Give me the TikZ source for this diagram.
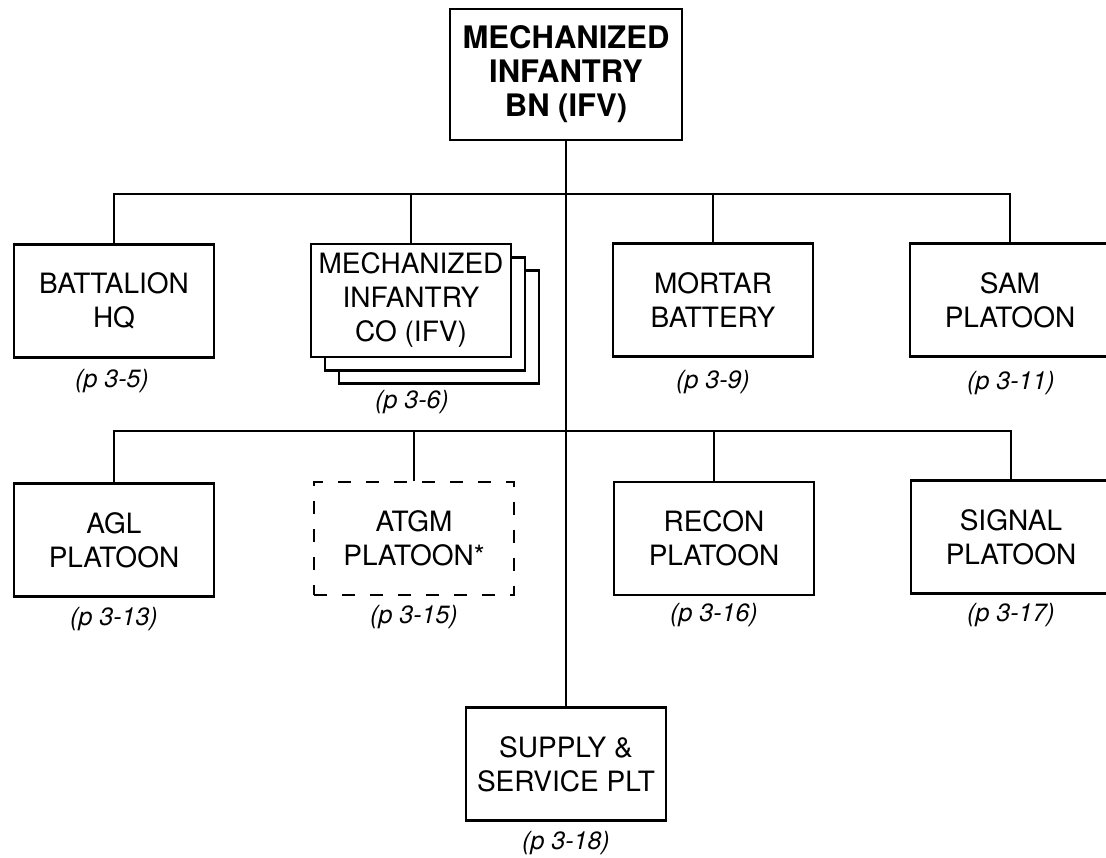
\documentclass[tikz,border=0pt]{standalone}
\usepackage{fontspec}
\setmainfont{TeX Gyre Heros}
\begin{document}
\begin{tikzpicture}[x=1pt,y=-1pt,
  unitbox/.style={draw=black,line width=2.8pt,fill=white,minimum width=200pt,minimum height=113pt,inner sep=0pt,align=center,font=\fontsize{28}{34}\selectfont},
  dashbox/.style={unitbox,line width=1.4pt,dash pattern=on 13pt off 15pt},
  topbox/.style={unitbox,minimum width=232pt,minimum height=131pt,font=\fontsize{31}{34}\selectfont\bfseries},
  pagelabel/.style={font=\fontsize{25}{28}\selectfont\itshape,inner sep=0pt},
  link/.style={line width=2.8pt}]
\useasboundingbox (0,0) rectangle (1106,857);
\clip (0,0) rectangle (1106,857);
\fill[white] (0,0) rectangle (1106,857);

% main spine
\node[topbox] (top) at (566,74.5) {MECHANIZED\\INFANTRY\\BN (IFV)};
\node[unitbox] (supply) at (566,764) {SUPPLY \&\\SERVICE PLT};
\coordinate (bar1) at (566,194);
\coordinate (bar2) at (566,431);

% row 1
\node[unitbox] (bhq) at (114,301) {BATTALION\\HQ};
\node[unitbox] (mico3) at (439,327) {};
\node[unitbox] (mico2) at (425,314) {};
\node[unitbox] (mico) at (411,300.5) {MECHANIZED\\INFANTRY\\CO (IFV)};
\node[unitbox] (mort) at (713,300) {MORTAR\\BATTERY};
\node[unitbox] (sam) at (1010,300) {SAM\\PLATOON};

% row 2
\node[unitbox] (agl) at (114,540) {AGL\\PLATOON};
\node[dashbox] (atgm) at (414,538.5) {ATGM\\PLATOON*};
\node[unitbox] (recon) at (714,538.5) {RECON\\PLATOON};
\node[unitbox] (signal) at (1011,537) {SIGNAL\\PLATOON};

% connectors
\draw[link] (top.south) -- (supply.north);
\draw[link] (bhq.north) -- (bhq.north |- bar1) -- (sam.north |- bar1) -- (sam.north);
\draw[link] (mico.north) -- (mico.north |- bar1);
\draw[link] (mort.north) -- (mort.north |- bar1);
\draw[link] (agl.north) -- (agl.north |- bar2) -- (signal.north |- bar2) -- (signal.north);
\draw[link] (atgm.north) -- (atgm.north |- bar2);
\draw[link] (recon.north) -- (recon.north |- bar2);

% page references
\node[pagelabel] (lbhq) at (112,381) {(p 3-5)};
\node[pagelabel] (lmico) at (412,402) {(p 3-6)};
\node[pagelabel] (lmort) at (713,382) {(p 3-9)};
\node[pagelabel] (lsam) at (1011,383) {(p 3-11)};
\node[pagelabel] (lagl) at (114,619) {(p 3-13)};
\node[pagelabel] (latgm) at (414,617) {(p 3-15)};
\node[pagelabel] (lrecon) at (714,615) {(p 3-16)};
\node[pagelabel] (lsignal) at (1011,615) {(p 3-17)};
\node[pagelabel] (lsupply) at (566,843) {(p 3-18)};
\end{tikzpicture}
\end{document}
